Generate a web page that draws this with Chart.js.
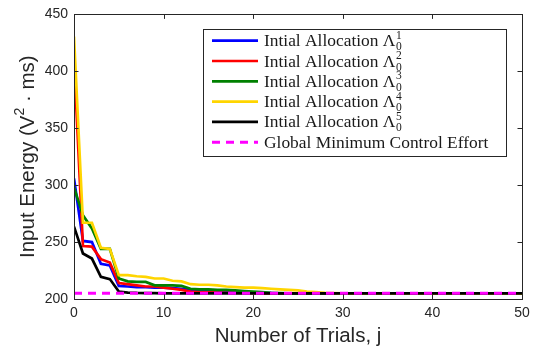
<!DOCTYPE html>
<html>
<head>
<meta charset="utf-8">
<script src="https://cdn.jsdelivr.net/npm/chart.js@4.4.1/dist/chart.umd.min.js"></script>
<style>
  html, body { margin: 0; padding: 0; background: #fff; }
  #wrap { width: 541px; height: 354px; }
</style>
</head>
<body>
<div id="wrap"><canvas id="chart" width="541" height="354"></canvas></div>
<script>
// data
const trials = Array.from({ length: 51 }, (_, i) => i);

const alloc1 = [306, 251, 250, 231, 229.5, 211.5, 211, 210.5, 210.3, 210, 210, 209.5, 209, 208, 207.5,
  207, 206.5, 206.2, 206, 205.8, 205.5, 205.3, 205.2, 205, 205, 205, 205, 205, 205, 205,
  205, 205, 205, 205, 205, 205, 205, 205, 205, 205, 205, 205, 205, 205, 205, 205, 205, 205, 205, 205, 205];
const alloc2 = [410.6, 246.5, 246, 235, 232, 214, 213, 212, 211, 211, 210, 209, 208, 206.5, 206,
  205.8, 205.6, 205.5, 205.4, 205.3, 205.2, 205, 205, 205, 205, 205, 205, 205, 205, 205,
  205, 205, 205, 205, 205, 205, 205, 205, 205, 205, 205, 205, 205, 205, 205, 205, 205, 205, 205, 205, 205];
const alloc3 = [298, 273.5, 262, 244, 244, 218, 215.5, 215, 215, 212, 212, 212, 211.5, 209, 208.5,
  208.5, 208, 208, 207.5, 207, 206.5, 206, 205.5, 205.2, 205, 205, 205, 205, 205, 205,
  205, 205, 205, 205, 205, 205, 205, 205, 205, 205, 205, 205, 205, 205, 205, 205, 205, 205, 205, 205, 205];
const alloc4 = [430.6, 267, 267, 245, 244, 221, 221, 220, 219.5, 218, 218, 216, 215.5, 213, 212.5,
  212.5, 212, 211, 210.5, 210, 210, 209.5, 209, 208.5, 208, 207.5, 206.5, 206, 205.5, 205.2,
  205, 205, 205, 205, 205, 205, 205, 205, 205, 205, 205, 205, 205, 205, 205, 205, 205, 205, 205, 205, 205];
const alloc5 = [263.6, 240, 235.5, 219.5, 217.5, 206.5, 205.6, 205.3, 205.2, 205.1, 205, 205, 205, 205, 205,
  205, 205, 205, 205, 205, 205, 205, 205, 205, 205, 205, 205, 205, 205, 205,
  205, 205, 205, 205, 205, 205, 205, 205, 205, 205, 205, 205, 205, 205, 205, 205, 205, 205, 205, 205, 205];
const globalMin = trials.map(() => 205);

const seriesNames = ['Intial Allocation ', 'Intial Allocation ', 'Intial Allocation ',
  'Intial Allocation ', 'Intial Allocation ', 'Global Minimum Control Effort'];
const seriesColors = ['#0000ff', '#ff0000', '#008000', '#ffd500', '#000000', '#ff00ff'];

const xTicks = { min: 0, max: 50, step: 10 };
const yTicks = { min: 200, max: 450, step: 50 };

const AXIS_COLOR = '#262626';
const SANS = '"Liberation Sans", Arial, sans-serif';
const SERIF = '"Liberation Serif", "DejaVu Serif", serif';

function toPoints(values) {
  return values.map((v, i) => ({ x: trials[i], y: v }));
}

const allSeries = [alloc1, alloc2, alloc3, alloc4, alloc5, globalMin];

const datasets = allSeries.map((vals, i) => ({
  label: seriesNames[i],
  data: toPoints(vals),
  borderColor: seriesColors[i],
  backgroundColor: seriesColors[i],
  borderWidth: i === 5 ? 3 : 2.7,
  borderDash: i === 5 ? [8, 6] : [],
  pointRadius: 0,
  tension: 0,
  order: allSeries.length - i,   // later series drawn on top, like MATLAB
}));

// box round the plot with ticks pointing inwards
const framePlugin = {
  id: 'frame',
  afterDatasetsDraw(chart) {
    const { ctx, chartArea: a, scales } = chart;
    const tl = 4.5;
    ctx.save();
    ctx.strokeStyle = AXIS_COLOR;
    ctx.lineWidth = 1;
    ctx.strokeRect(Math.round(a.left) + 0.5, Math.round(a.top) + 0.5,
      Math.round(a.right - a.left), Math.round(a.bottom - a.top));
    ctx.beginPath();
    scales.x.ticks.forEach(t => {
      const px = Math.round(scales.x.getPixelForValue(t.value)) + 0.5;
      ctx.moveTo(px, a.bottom); ctx.lineTo(px, a.bottom - tl);
      ctx.moveTo(px, a.top); ctx.lineTo(px, a.top + tl);
    });
    scales.y.ticks.forEach(t => {
      const py = Math.round(scales.y.getPixelForValue(t.value)) + 0.5;
      ctx.moveTo(a.left, py); ctx.lineTo(a.left + tl, py);
      ctx.moveTo(a.right, py); ctx.lineTo(a.right - tl, py);
    });
    ctx.stroke();
    ctx.restore();
  }
};

// y axis title, drawn by hand so the 2 can be a proper superscript
const yTitlePlugin = {
  id: 'yTitle',
  afterDraw(chart) {
    const ctx = chart.ctx;
    const a = chart.chartArea;
    const parts = [
      { t: 'Input Energy (V', size: 20.5, dy: 0 },
      { t: '2', size: 14, dy: -8 },
      { t: ' · ms)', size: 20.5, dy: 0 },
    ];
    ctx.save();
    ctx.translate(28, (a.top + a.bottom) / 2);
    ctx.rotate(-Math.PI / 2);
    ctx.fillStyle = AXIS_COLOR;
    ctx.textBaseline = 'middle';
    ctx.textAlign = 'left';
    let total = 0;
    parts.forEach(p => { ctx.font = p.size + 'px ' + SANS; total += ctx.measureText(p.t).width; });
    let x = -total / 2;
    parts.forEach(p => {
      ctx.font = p.size + 'px ' + SANS;
      ctx.fillText(p.t, x, p.dy);
      x += ctx.measureText(p.t).width;
    });
    ctx.restore();
  }
};

// legend box with the Λ symbols (super- and subscript)
const legendPlugin = {
  id: 'matLegend',
  afterDraw(chart) {
    const ctx = chart.ctx;
    const box = { x: 203.5, y: 29.5, w: 303, h: 127 };
    ctx.save();
    ctx.fillStyle = '#ffffff';
    ctx.fillRect(box.x, box.y, box.w, box.h);
    ctx.strokeStyle = AXIS_COLOR;
    ctx.lineWidth = 1;
    ctx.strokeRect(box.x, box.y, box.w, box.h);

    const mainFont = '17.4px ' + SERIF;
    const smallFont = '11.5px ' + SERIF;
    for (let i = 0; i < datasets.length; i++) {
      const cy = 40.7 + i * 20.3;
      ctx.beginPath();
      ctx.strokeStyle = seriesColors[i];
      ctx.lineWidth = i === 5 ? 3 : 2.7;
      ctx.setLineDash(i === 5 ? [8, 6] : []);
      ctx.moveTo(212, cy);
      ctx.lineTo(258, cy);
      ctx.stroke();
      ctx.setLineDash([]);

      ctx.fillStyle = '#1a1a1a';
      ctx.textBaseline = 'middle';
      ctx.textAlign = 'left';
      ctx.font = mainFont;
      const label = seriesNames[i];
      ctx.fillText(label, 264, cy + 1);
      if (i < 5) {
        let x = 264 + ctx.measureText(label).width;
        ctx.fillText('Λ', x, cy + 1);
        x += ctx.measureText('Λ').width + 0.5;
        ctx.font = smallFont;
        ctx.fillText(String(i + 1), x, cy - 5);
        ctx.fillText('0', x, cy + 6.5);
      }
    }
    ctx.restore();
  }
};

new Chart(document.getElementById('chart'), {
  type: 'line',
  data: { datasets },
  plugins: [framePlugin, yTitlePlugin, legendPlugin],
  options: {
    responsive: false,
    animation: false,
    devicePixelRatio: 1,
    layout: { padding: { top: 7, right: 19, left: 0, bottom: 0 } },
    plugins: { legend: { display: false }, tooltip: { enabled: false } },
    scales: {
      x: {
        type: 'linear',
        min: xTicks.min, max: xTicks.max,
        grid: { display: false, drawTicks: false },
        border: { display: false },
        ticks: {
          stepSize: xTicks.step, padding: 6, color: AXIS_COLOR, maxRotation: 0,
          font: { family: SANS, size: 14 }
        },
        title: {
          display: true, text: 'Number of Trials, j', color: AXIS_COLOR,
          font: { family: SANS, size: 20.5 },
          padding: { top: 0, bottom: 5 }
        },
        afterFit(scale) { scale.height = 55; }
      },
      y: {
        min: yTicks.min, max: yTicks.max,
        grid: { display: false, drawTicks: false },
        border: { display: false },
        ticks: {
          stepSize: yTicks.step, padding: 6, color: AXIS_COLOR,
          font: { family: SANS, size: 14 }
        },
        afterFit(scale) { scale.width = 74; }
      }
    }
  }
});
</script>
</body>
</html>
